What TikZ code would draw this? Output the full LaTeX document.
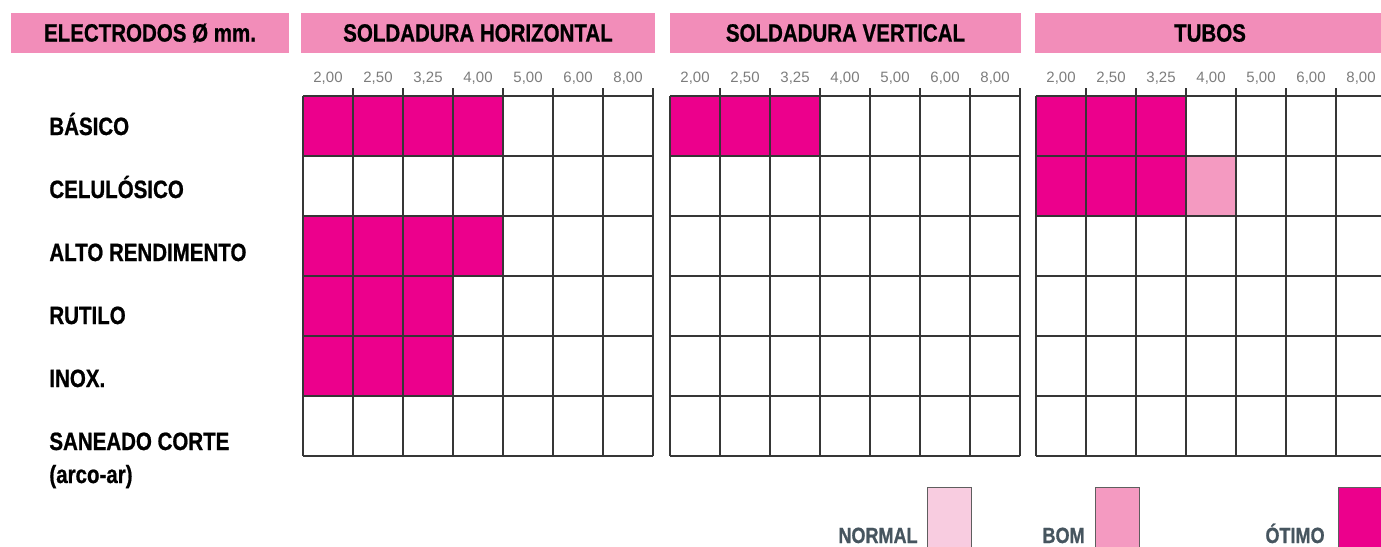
\documentclass[tikz,border=0pt]{standalone}
\usepackage{fontspec}
\setmainfont{Liberation Sans}[FakeStretch=0.82, BoldFeatures={FakeBold=0.8}]
\newfontfamily\numfont{Liberation Sans}
\definecolor{otimo}{HTML}{EC008C}
\definecolor{bom}{HTML}{F49AC1}
\definecolor{normal}{HTML}{F8CCE0}
\definecolor{barpink}{HTML}{F28DB9}
\definecolor{legendtext}{HTML}{46555F}
\definecolor{gridline}{HTML}{363636}
\definecolor{numgray}{HTML}{7C7C7C}

\begin{document}
\begin{tikzpicture}[x=0.5pt,y=-0.5pt]
\tikzstyle{head}=[fill=barpink, minimum height=20pt, inner sep=0pt, font=\bfseries\fontsize{12.5}{14}\selectfont]
\tikzstyle{rowlab}=[anchor=base west, inner sep=0pt, font=\bfseries\fontsize{12.5}{14}\selectfont]
\tikzstyle{num}=[anchor=base, inner sep=0pt, text=numgray, font=\numfont\fontsize{7.5}{9}\selectfont]
\tikzstyle{gridln}=[draw=gridline, line width=0.6pt]
\tikzstyle{legbox}=[draw=gridline!80, line width=0.5pt, minimum width=22pt, minimum height=40pt, inner sep=0pt, anchor=north west]
\tikzstyle{legtext}=[anchor=base east, inner sep=0pt, text=legendtext, font=\bfseries\fontsize{11}{13}\selectfont]
  \clip (0,0) rectangle (1381,546);
  % header bars
  \node[head, minimum width=139pt] (hElec) at (150,33) {ELECTRODOS Ø mm.};
  \node[head, minimum width=177pt] (hHoriz) at (478,33) {SOLDADURA HORIZONTAL};
  \node[head, minimum width=175.5pt] (hVert) at (845.5,33) {SOLDADURA VERTICAL};
  \node[head, minimum width=175pt] (hTubos) at (1210,33) {TUBOS};
  % electrode types
  \node[rowlab] (rBasico) at (49,135) {BÁSICO};
  \node[rowlab] (rCelul) at (49,198) {CELULÓSICO};
  \node[rowlab] (rAlto) at (49,261) {ALTO RENDIMENTO};
  \node[rowlab] (rRutilo) at (49,324) {RUTILO};
  \node[rowlab] (rInox) at (49,387) {INOX.};
  \node[rowlab] (rSaneado) at (49,450) {SANEADO CORTE};
  \node[rowlab] (rArco) at (49,483) {(arco-ar)};
  % filled cells
  \foreach \gx/\r/\n in {303/1/4, 303/3/4, 303/4/3, 303/5/3, 670/1/3, 1036/1/3, 1036/2/3}
    \fill[otimo] (\gx,{96+60*(\r-1)}) rectangle ++({50*\n},60);
  \fill[bom] (1186,156) rectangle ++(50,60);
  % grids, ticks and diameters
  \foreach \gx in {303,670,1036} {
    \foreach \c in {0,...,7}
      \draw[gridln] ({\gx+50*\c},96) -- ++(0,360);
    \foreach \r in {0,...,6}
      \draw[gridln] (\gx,{96+60*\r}) -- ++(350,0);
    \foreach \c in {1,...,7}
      \draw[gridln] ({\gx+50*\c},88) -- ++(0,8);
    \foreach \d [count=\c from 0] in {{2,00},{2,50},{3,25},{4,00},{5,00},{6,00},{8,00}}
      \node[num] at ({\gx+25+50*\c},82) {\d};
  }
  % legend
  \node[legbox, fill=normal] (boxNormal) at (927,487) {};
  \node[legbox, fill=bom] (boxBom) at (1095,487) {};
  \node[legbox, fill=otimo] (boxOtimo) at (1338,487) {};
  \node[legtext] (tNormal) at (918,543) {NORMAL};
  \node[legtext] (tBom) at (1085,543) {BOM};
  \node[legtext] (tOtimo) at (1325,543) {ÓTIMO};
\end{tikzpicture}
\end{document}
